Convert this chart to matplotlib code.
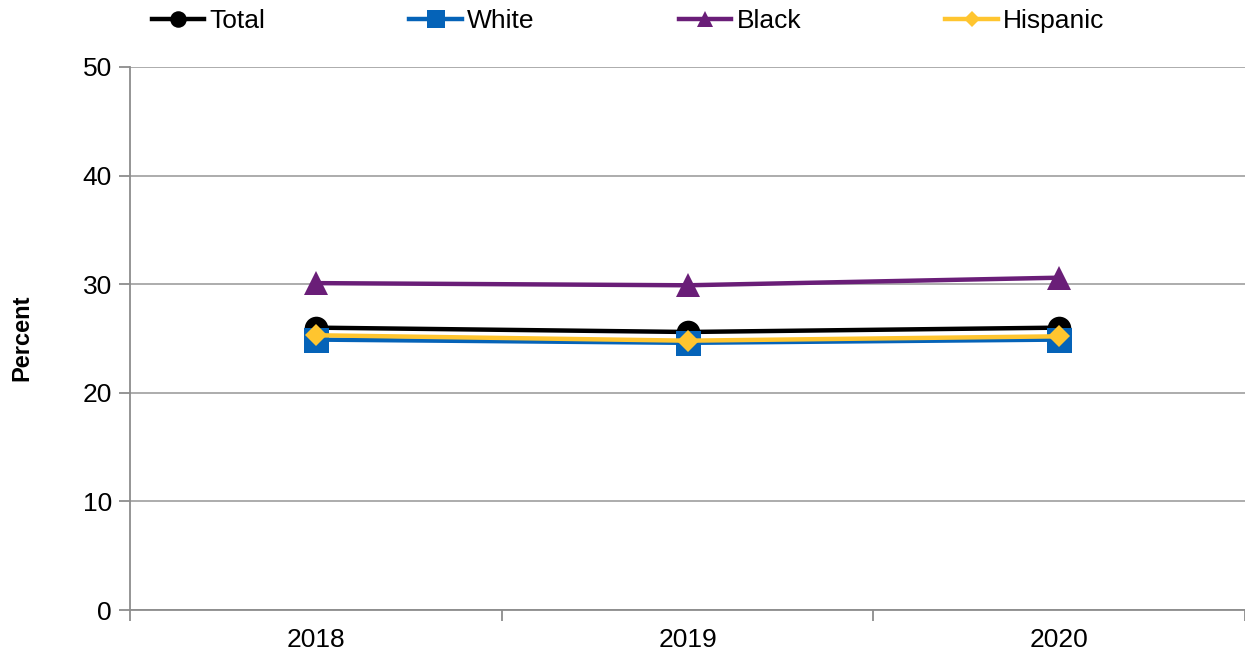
import matplotlib.pyplot as plt
from matplotlib.ticker import FixedLocator

# data
years = ["2018", "2019", "2020"]
total = [26.0, 25.6, 26.0]
white = [24.9, 24.6, 24.9]
black = [30.1, 29.9, 30.6]
hispanic = [25.3, 24.8, 25.2]

series = [
    ("Total", total, "#000000", "o", 17),
    ("White", white, "#0563B8", "s", 18),
    ("Black", black, "#6A1E78", "^", 17),
    ("Hispanic", hispanic, "#FFC52F", "D", 11),
]

plt.rcParams["font.family"] = ["Liberation Sans", "DejaVu Sans"]

W, H = 1245, 654
fig = plt.figure(figsize=(W / 100, H / 100), dpi=100)
ax = fig.add_axes([130 / W, 1 - 610 / H, (1245 - 130) / W, (610 - 67) / H])

x = list(range(len(years)))
for name, vals, color, marker, ms in series:
    ax.plot(x, vals, color=color, lw=3.2, marker=marker, markersize=ms,
            markeredgewidth=0, label=name, solid_joinstyle="miter")

ax.set_xlim(-0.5, len(years) - 0.5)
ax.set_ylim(0, 50)
ax.set_yticks(range(0, 51, 10))
ax.yaxis.grid(True, color="#A6A6A6", lw=1.3)
ax.set_axisbelow(True)

# tick marks sit between categories, labels sit under the categories
ax.xaxis.set_major_locator(FixedLocator([i - 0.5 for i in range(len(years) + 1)]))
ax.xaxis.set_minor_locator(FixedLocator(x))
ax.set_xticklabels([])
ax.set_xticklabels(years, minor=True)
ax.tick_params(axis="x", which="major", length=8, width=1.3, color="#8C8C8C")
ax.tick_params(axis="x", which="minor", length=0, pad=13, labelsize=19)
ax.tick_params(axis="y", length=8, width=1.3, color="#8C8C8C", labelsize=19, pad=5)

for s in ["top", "right"]:
    ax.spines[s].set_visible(False)
for s in ["left", "bottom"]:
    ax.spines[s].set_color("#8C8C8C")
    ax.spines[s].set_linewidth(1.3)

fig.text(22 / W, 1 - 338 / H, "Percent", rotation=90, fontsize=17,
         fontweight="bold", ha="center", va="center")

fig.legend(loc="center left", bbox_to_anchor=(141 / W, 1 - 21 / H), ncol=4,
           frameon=False, fontsize=19, handlelength=2.0, handletextpad=0.2,
           columnspacing=5.45, borderaxespad=0, markerscale=0.7)

plt.savefig("out.png", dpi=100)
plt.close()
